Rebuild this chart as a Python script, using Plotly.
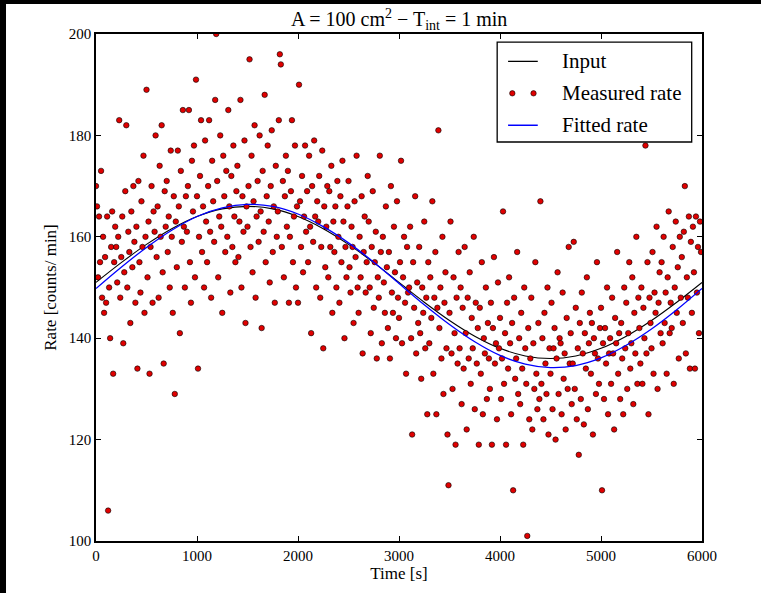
import plotly.graph_objects as go

# Measured count rate, one value every 10 s (counts/min, 1-min integration)
time_step = 10
measured_rate = [
    170, 166, 152, 164, 155, 173, 148, 160, 145, 156,
    147, 164, 106, 150, 140, 158, 165, 133, 155, 162,
    158, 151, 160, 183, 148, 156, 164, 139, 153, 169,
    182, 150, 161, 157, 143, 165, 154, 170, 159, 147,
    162, 134, 171, 155, 149, 167, 158, 176, 145, 160,
    189, 152, 163, 133, 158, 170, 147, 165, 161, 180,
    156, 166, 148, 174, 160, 182, 153, 135, 169, 162,
    171, 157, 164, 150, 177, 160, 145, 168, 129, 163,
    154, 177, 166, 141, 173, 159, 185, 162, 150, 168,
    161, 170, 185, 155, 147, 175, 165, 178, 152, 191,
    168, 134, 160, 172, 183, 157, 166, 150, 179, 163,
    155, 170, 183, 161, 148, 175, 167, 159, 187, 200,
    171, 152, 164, 180, 162, 145, 176, 168, 157, 173,
    160, 185, 166, 149, 172, 158, 178, 164, 155, 169,
    174, 156, 163, 187, 150, 168, 161, 179, 143, 166,
    162, 170, 195, 158, 176, 153, 167, 182, 148, 164,
    171, 159, 180, 165, 142, 173, 161, 188, 155, 168,
    178, 163, 151, 170, 181, 157, 166, 147, 174, 160,
    165, 183, 196, 194, 158, 171, 152, 168, 176, 162,
    173, 147, 160, 169, 183, 155, 164, 178, 150, 166,
    147, 190, 167, 158, 172, 153, 164, 178, 161, 169,
    155, 176, 162, 141, 170, 159, 179, 164, 150, 167,
    163, 172, 148, 158, 177, 138, 166, 154, 162, 170,
    152, 169, 158, 174, 145, 163, 157, 166, 150, 171,
    160, 147, 168, 155, 175, 163, 140, 158, 152, 166,
    171, 154, 149, 162, 158, 143, 167, 156, 176, 150,
    145, 160, 152, 168, 137, 157, 164, 149, 155, 172,
    163, 150, 141, 158, 169, 146, 155, 161, 136, 152,
    148, 176, 157, 139, 160, 151, 145, 166, 154, 142,
    157, 136, 170, 149, 145, 162, 153, 140, 167, 148,
    144, 155, 175, 139, 152, 160, 147, 133, 158, 149,
    150, 162, 140, 121, 155, 146, 168, 137, 151, 143,
    158, 141, 132, 150, 145, 163, 138, 148, 125, 155,
    139, 152, 144, 167, 133, 148, 157, 125, 146, 181,
    142, 150, 136, 160, 129, 147, 153, 138, 121, 111,
    145, 163, 137, 130, 152, 141, 119, 148, 135, 157,
    138, 150, 127, 146, 134, 158, 141, 122, 148, 136,
    153, 131, 144, 138, 160, 126, 147, 135, 142, 119,
    146, 133, 155, 125, 140, 137, 150, 128, 143, 136,
    130, 147, 119, 142, 156, 135, 139, 124, 151, 138,
    144, 128, 136, 165, 131, 141, 119, 147, 134, 152,
    139, 125, 143, 110, 148, 132, 136, 157, 129, 140,
    127, 145, 134, 119, 150, 138, 131, 101, 142, 124,
    136, 148, 122, 139, 130, 155, 133, 126, 143, 128,
    167, 131, 140, 124, 145, 135, 129, 150, 121, 138,
    133, 147, 126, 138, 142, 120, 136, 153, 129, 140,
    139, 125, 149, 132, 137, 122, 144, 130, 158, 135,
    141, 127, 135, 159, 130, 146, 124, 138, 117, 143,
    128, 149, 137, 123, 141, 134, 152, 126, 139, 145,
    133, 143, 121, 140, 137, 129, 155, 136, 131, 142,
    146, 110, 139, 128, 142, 135, 150, 125, 137, 140,
    131, 148, 137, 122, 144, 139, 157, 133, 141, 128,
    143, 136, 125, 150, 138, 147, 130, 141, 155, 134,
    139, 152, 127, 145, 137, 160, 131, 148, 142, 135,
    150, 131, 146, 140, 178, 137, 155, 125, 148, 143,
    138, 157, 133, 149, 145, 162, 130, 147, 153, 141,
    155, 139, 160, 143, 149, 133, 152, 165, 141, 147,
    142, 158, 131, 150, 163, 145, 154, 136, 160, 148,
    156, 143, 161, 170, 137, 152, 148, 164, 134, 159,
    145, 162, 153, 134, 164, 149, 158, 141, 163, 157,
]
measured_time = [i * time_step for i in range(len(measured_rate))]

# Input and fitted rate, sampled every 250 s
curve_time = [i * 250 for i in range(25)]
input_rate = [
    151.0, 154.9, 158.5, 161.6, 164.0, 165.5, 166.0, 165.5, 164.0, 161.6,
    158.5, 154.9, 151.0, 147.1, 143.5, 140.4, 138.0, 136.5, 136.0, 136.5,
    138.0, 140.4, 143.5, 147.1, 151.0,
]
fitted_rate = [
    149.8, 154.0, 157.9, 161.3, 164.0, 165.7, 166.4, 166.0, 164.5, 162.0,
    158.8, 155.0, 150.8, 146.6, 142.7, 139.3, 136.6, 134.9, 134.2, 134.6,
    136.1, 138.6, 141.8, 145.6, 149.8,
]

x_ticks = [0, 1000, 2000, 3000, 4000, 5000, 6000]
y_ticks = [100, 120, 140, 160, 180, 200]
legend_labels = ["Input", "Measured rate", "Fitted rate"]

SERIF = "Liberation Serif"
RED = "#e00000"

fig = go.Figure()
fig.add_trace(go.Scatter(
    x=curve_time, y=input_rate, mode="lines", line_shape="spline",
    line=dict(color="black", width=1.1), name=legend_labels[0], showlegend=False,
))
fig.add_trace(go.Scatter(
    x=measured_time, y=measured_rate, mode="markers",
    marker=dict(color=RED, size=5.5, line=dict(color="black", width=0.6)),
    name=legend_labels[1], showlegend=False, cliponaxis=True,
))
fig.add_trace(go.Scatter(
    x=curve_time, y=fitted_rate, mode="lines", line_shape="spline",
    line=dict(color="#0000ff", width=1.3), name=legend_labels[2], showlegend=False,
))

axis_common = dict(
    showgrid=False, zeroline=False, showline=True, linecolor="black", linewidth=1.5,
    mirror="ticks", ticks="inside", ticklen=5, tickwidth=1, tickcolor="black",
    tickfont=dict(family=SERIF, size=15, color="black"),
)

shapes = []
annotations = []

# Legend box drawn in paper coordinates
lx0, lx1, ly0, ly1 = 0.662, 0.983, 0.787, 0.984
shapes.append(dict(type="rect", xref="paper", yref="paper", x0=lx0, x1=lx1, y0=ly0, y1=ly1,
                   line=dict(color="black", width=1.3), fillcolor="white", layer="above"))
row_y = [0.946, 0.883, 0.820]
sx0, sx1 = 0.680, 0.729
shapes.append(dict(type="line", xref="paper", yref="paper", x0=sx0, x1=sx1, y0=row_y[0], y1=row_y[0],
                   line=dict(color="black", width=1.3), layer="above"))
shapes.append(dict(type="line", xref="paper", yref="paper", x0=sx0, x1=sx1, y0=row_y[2], y1=row_y[2],
                   line=dict(color="#0000ff", width=1.5), layer="above"))
for dx in (sx0 + 0.007, sx1 - 0.007):
    shapes.append(dict(type="circle", xref="paper", yref="paper", xsizemode="pixel", ysizemode="pixel",
                       xanchor=dx, yanchor=row_y[1], x0=-2.7, x1=2.7, y0=-2.7, y1=2.7,
                       fillcolor=RED, line=dict(color="black", width=0.6), layer="above"))
for label, yy in zip(legend_labels, row_y):
    annotations.append(dict(text=label, xref="paper", yref="paper", x=0.765, y=yy,
                            xanchor="left", yanchor="middle", showarrow=False,
                            font=dict(family=SERIF, size=21, color="black")))

# Dark page edges at top and left
shapes.append(dict(type="rect", xref="paper", yref="paper", x0=-0.17, x1=1.1, y0=1.0592, y1=1.08,
                   fillcolor="black", line=dict(width=0), layer="above"))
shapes.append(dict(type="rect", xref="paper", yref="paper", x0=-0.17, x1=-0.1485, y0=-0.12, y1=1.08,
                   fillcolor="black", line=dict(width=0), layer="above"))

fig.update_layout(
    width=761, height=593,
    margin=dict(l=96, r=59, t=34, b=52),
    paper_bgcolor="white", plot_bgcolor="white",
    title=dict(text="A = 100 cm<sup>2</sup> − T<sub>int</sub> = 1 min",
               x=0.5245, xanchor="center", y=0.968, yanchor="middle",
               font=dict(family=SERIF, size=20, color="black")),
    xaxis=dict(range=[0, 6000], tickvals=x_ticks, ticktext=[str(v) for v in x_ticks],
               title=dict(text="Time [s]", font=dict(family=SERIF, size=17, color="black"), standoff=3),
               **axis_common),
    yaxis=dict(range=[100, 200], tickvals=y_ticks, ticktext=[str(v) for v in y_ticks],
               title=dict(text="Rate [counts/ min]", font=dict(family=SERIF, size=17, color="black"), standoff=8),
               **axis_common),
    shapes=shapes, annotations=annotations,
    showlegend=False,
)

fig.write_html("out.html")
